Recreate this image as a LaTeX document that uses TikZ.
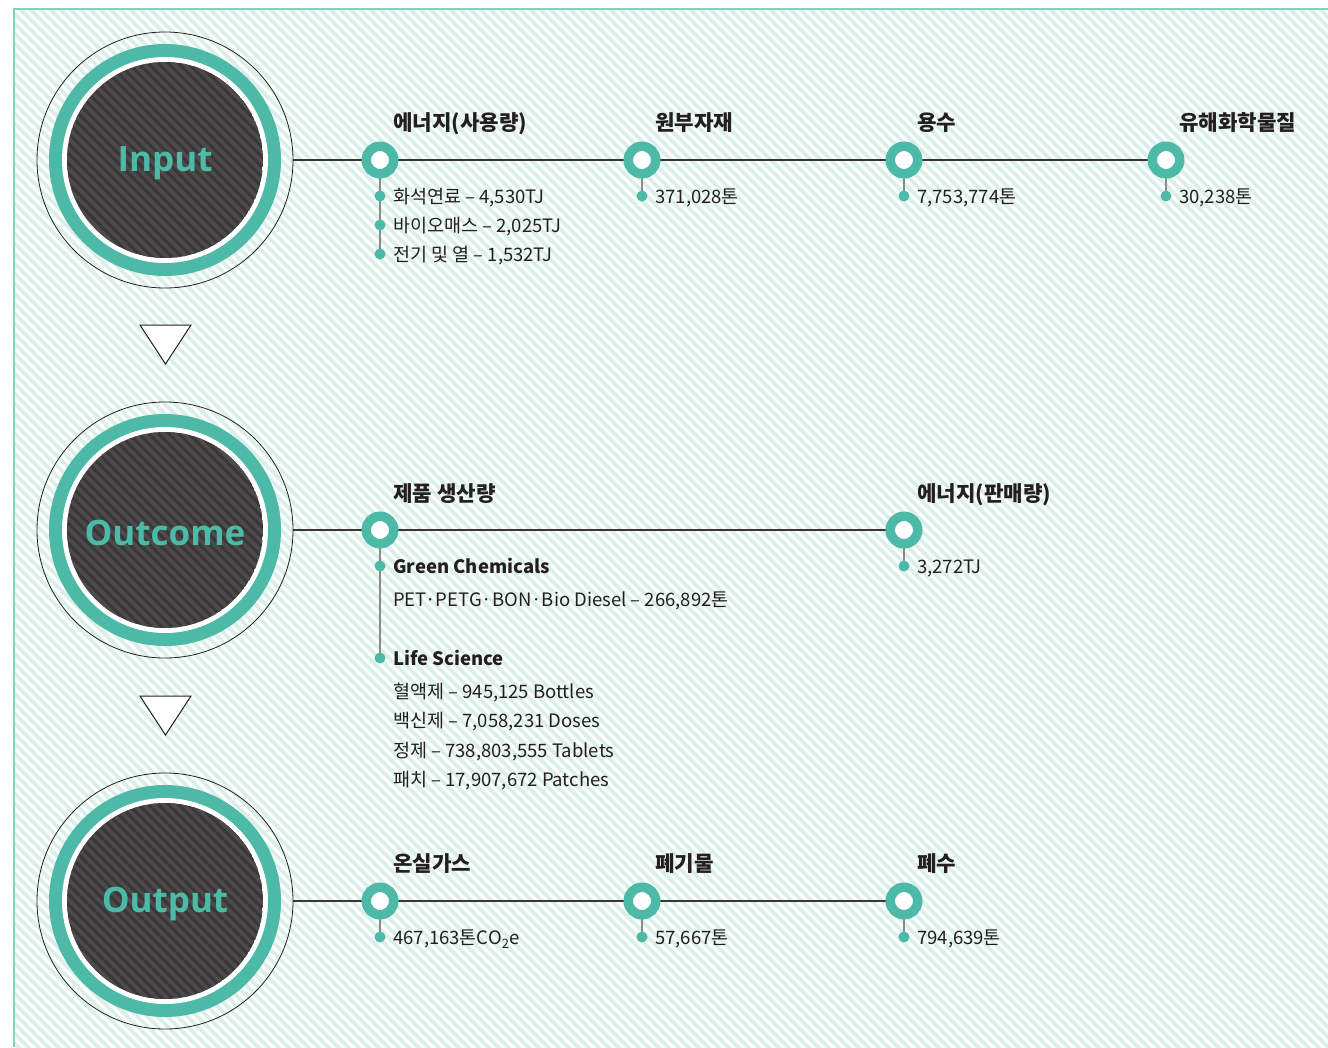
\documentclass[tikz,border=0pt]{standalone}
\usepackage{fontspec}
\setmainfont{Noto Sans CJK KR}
\newfontfamily\stagefont{Open Sans}
\definecolor{tealc}{HTML}{4DBAA7}
\definecolor{framec}{HTML}{86D0C2}
\definecolor{stripec}{HTML}{DAEFE9}
\definecolor{darkc}{HTML}{393737}
\definecolor{darkstripec}{HTML}{4D4A4A}
\definecolor{inkc}{HTML}{231F20}
\definecolor{greyc}{HTML}{8A8A8A}
\pgfdeclarelayer{bg}
\pgfdeclarelayer{lines}
\pgfsetlayers{bg,lines,main}
\tikzset{
  bgstripe/.style={stripec, line width=3.7pt},
  darkstripe/.style={darkstripec, line width=3.8pt},
  stageouter/.style={circle, draw=inkc, line width=0.8pt, minimum size=256pt, inner sep=0pt},
  stagetext/.style={text=tealc, font=\stagefont\bfseries\fontsize{35}{40}\selectfont, inner sep=0pt},
  hline/.style={draw=inkc!90, line width=1.2pt},
  vline/.style={draw=greyc, line width=2pt},
  marker/.style={circle, draw=tealc, line width=9.5pt, fill=white, minimum size=27.5pt, inner sep=0pt},
  dot/.style={circle, fill=tealc, minimum size=11pt, inner sep=0pt},
  lbl/.style={anchor=mid west, inner sep=0pt, yshift=-6.5pt, text=inkc, font=\fontsize{21.2}{25}\selectfont\bfseries},
  val/.style={anchor=mid west, inner sep=0pt, yshift=-5pt, text=inkc, font=\fontsize{18.5}{22}\selectfont},
  valb/.style={anchor=mid west, inner sep=0pt, yshift=-5pt, text=inkc, font=\fontsize{18.5}{22}\selectfont\bfseries},
  tri/.style={draw=inkc, line width=1pt, fill=white, line join=miter}
}
\newcommand\stagedisc[3]{%
  \node[stageouter] (#1) at (165,#2) {};
  \fill[tealc] (165,#2) circle[radius=116pt];
  \fill[white] (165,#2) circle[radius=103pt];
  \begin{scope}
    \clip (165,#2) circle[radius=98pt];
    \fill[darkc] (165,#2) circle[radius=98pt];
    \foreach \i in {-140,-130,...,270} \draw[darkstripe] (\i,#2-100) -- ++(200,200);
  \end{scope}
  \node[stagetext] (#1t) at (165,#2+3) {#3};
}
\begin{document}
\begin{tikzpicture}[x=1pt,y=-1pt]
\useasboundingbox (0,0) rectangle (1328,1047);
\begin{pgfonlayer}{bg}
  \fill[white] (0,0) rectangle (1328,1047);
  \begin{scope}
    \clip (14,9) rectangle (1328,1047);
    \foreach \i in {-1050,-1040,...,1330} \draw[bgstripe] (\i,9) -- ++(1045,1045);
  \end{scope}
  \draw[framec, line width=1.5pt] (14,1047) -- (14,9) -- (1328,9);
\end{pgfonlayer}

% stages
\stagedisc{inp}{160}{Input}
\stagedisc{outc}{530}{Outcome}
\stagedisc{outp}{901}{Output}

% arrows between stages
\draw[tri] (140,325) -- (191,325) -- (165.5,364) -- cycle;
\draw[tri] (140,696) -- (191,696) -- (165.5,735) -- cycle;

% ---- Input row
\node[marker] (m11) at (380,160) {};
\node[marker] (m12) at (642,160) {};
\node[marker] (m13) at (904,160) {};
\node[marker] (m14) at (1166,160) {};
\node[lbl] (l11) at (393,121) {에너지(사용량)};
\node[lbl] (l12) at (655,121) {원부자재};
\node[lbl] (l13) at (917,121) {용수};
\node[lbl] (l14) at (1179,121) {유해화학물질};
\node[dot] (d11a) at (380,196) {};
\node[dot] (d11b) at (380,225) {};
\node[dot] (d11c) at (380,254) {};
\node[dot] (d12) at (642,196) {};
\node[dot] (d13) at (904,196) {};
\node[dot] (d14) at (1166,196) {};
\node[val] (v11a) at (393,196) {화석연료 – 4,530TJ};
\node[val] (v11b) at (393,225) {바이오매스 – 2,025TJ};
\node[val] (v11c) at (393,254) {전기 및 열 – 1,532TJ};
\node[val] (v12) at (655,196) {371,028톤};
\node[val] (v13) at (917,196) {7,753,774톤};
\node[val] (v14) at (1179,196) {30,238톤};

% ---- Outcome row
\node[marker] (m21) at (380,530) {};
\node[marker] (m22) at (904,530) {};
\node[lbl] (l21) at (393,492) {제품 생산량};
\node[lbl] (l22) at (917,492) {에너지(판매량)};
\node[dot] (d21a) at (380,566) {};
\node[dot] (d21b) at (380,658) {};
\node[dot] (d22) at (904,566) {};
\node[valb] (v21a) at (393,566) {Green Chemicals};
\node[val] (v21b) at (393,599) {PET·PETG·BON·Bio Diesel – 266,892톤};
\node[valb] (v21c) at (393,658) {Life Science};
\node[val] (v21d) at (393,691) {혈액제 – 945,125 Bottles};
\node[val] (v21e) at (393,720) {백신제 – 7,058,231 Doses};
\node[val] (v21f) at (393,750) {정제 – 738,803,555 Tablets};
\node[val] (v21g) at (393,779) {패치 – 17,907,672 Patches};
\node[val] (v22) at (917,566) {3,272TJ};

% ---- Output row
\node[marker] (m31) at (380,901) {};
\node[marker] (m32) at (642,901) {};
\node[marker] (m33) at (904,901) {};
\node[lbl] (l31) at (393,862) {온실가스};
\node[lbl] (l32) at (655,862) {폐기물};
\node[lbl] (l33) at (917,862) {폐수};
\node[dot] (d31) at (380,937) {};
\node[dot] (d32) at (642,937) {};
\node[dot] (d33) at (904,937) {};
\node[val] (v31) at (393,937) {467,163톤CO\textsubscript{2}e};
\node[val] (v32) at (655,937) {57,667톤};
\node[val] (v33) at (917,937) {794,639톤};

% ---- connectors
\begin{pgfonlayer}{lines}
  \draw[hline] (inp.east) -- (m14.center);
  \draw[hline] (outc.east) -- (m22.center);
  \draw[hline] (outp.east) -- (m33.center);
  \draw[vline] (m11.center) -- (d11c.center);
  \draw[vline] (m12.center) -- (d12.center);
  \draw[vline] (m13.center) -- (d13.center);
  \draw[vline] (m14.center) -- (d14.center);
  \draw[vline] (m21.center) -- (d21b.center);
  \draw[vline] (m22.center) -- (d22.center);
  \draw[vline] (m31.center) -- (d31.center);
  \draw[vline] (m32.center) -- (d32.center);
  \draw[vline] (m33.center) -- (d33.center);
\end{pgfonlayer}
\end{tikzpicture}
\end{document}
